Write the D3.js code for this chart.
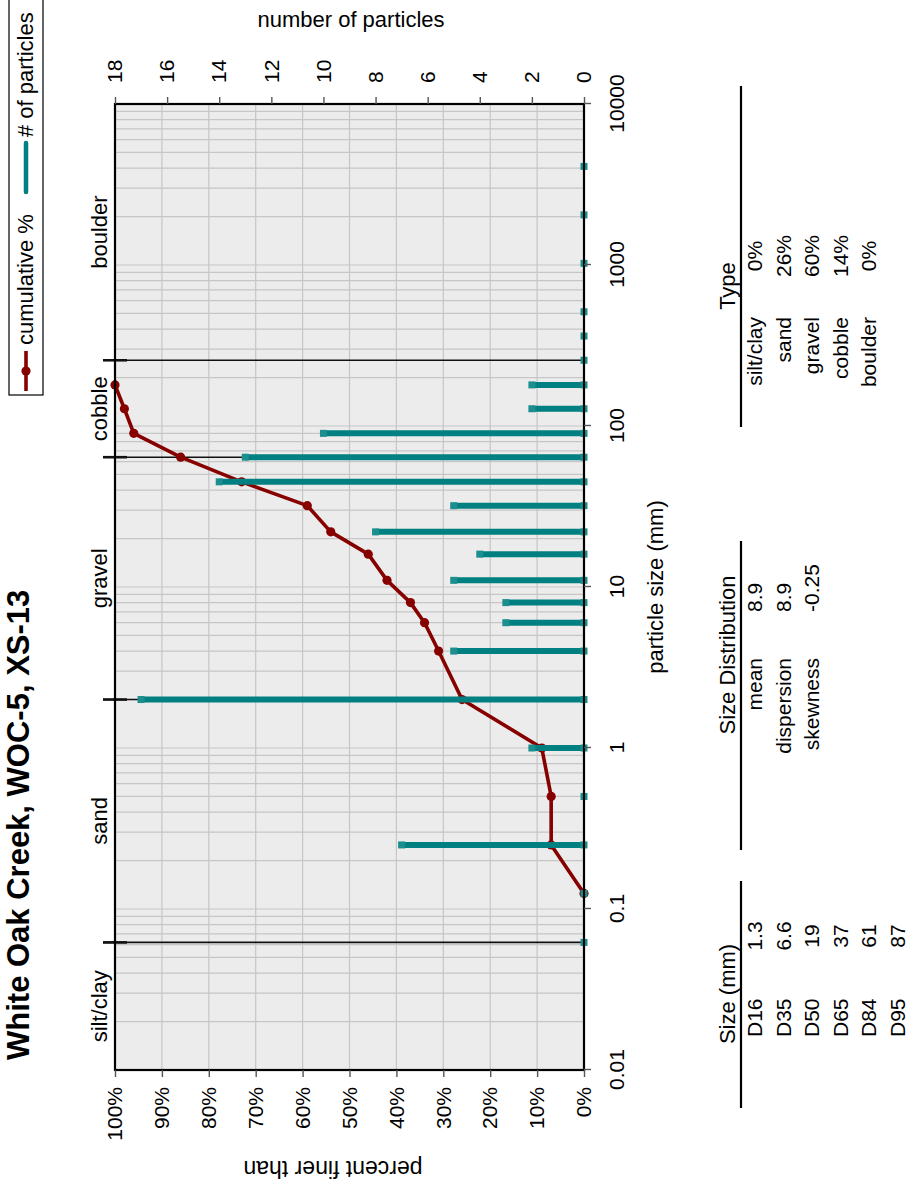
<!DOCTYPE html>
<html><head><meta charset="utf-8">
<script src="https://cdn.jsdelivr.net/npm/d3@7"></script>
<style>
body{margin:0;background:#fff}
svg{display:block}
text{font-family:"Liberation Sans",Arial,Helvetica,sans-serif;fill:#000}
</style>
</head><body>
<svg id="chart" width="907" height="1188"></svg>
<script>
// ---------- data ----------
const sizes  = [0.062,0.125,0.25,0.5,1,2,4,6,8,11,16,22,32,45,64,90,128,180,256,362,512,1024,2048,4096];
const counts = [0,0,7,0,2,17,5,3,3,5,4,8,5,14,13,10,2,2,0,0,0,0,0,0];
const cumSizes = [0.125,0.25,0.5,1,2,4,6,8,11,16,22,32,45,64,90,128,180];
const cumPct   = [0,7,7,9,26,31,34,37,42,46,54,59,73,86,96,98,100];
const classNames = ["silt/clay","sand","gravel","cobble","boulder"];
const classEdges = [0.01,0.062,2,64,256,10000];
const boundaries = [0.062,2,64,256];
const sizeTicks  = [0.01,0.1,1,10,100,1000,10000];
const sizeTickLabels = ["0.01","0.1","1","10","100","1000","10000"];
const pctTicks   = [0,10,20,30,40,50,60,70,80,90,100];
const countTicks = [0,2,4,6,8,10,12,14,16,18];
const dLabels = ["D16","D35","D50","D65","D84","D95"];
const dValues = ["1.3","6.6","19","37","61","87"];
const statLabels = ["mean","dispersion","skewness"];
const statValues = ["8.9","8.9","-0.25"];
const typeLabels = ["silt/clay","sand","gravel","cobble","boulder"];
const typeValues = ["0%","26%","60%","14%","0%"];
const title = "White Oak Creek, WOC-5, XS-13";

// ---------- layout (drawn in landscape coords, then rotated) ----------
const W = 1188, H = 907;
const svg = d3.select("#chart");
const g = svg.append("g").attr("transform", `translate(0,${W}) rotate(-90)`);

const x  = d3.scaleLog().domain([0.01,10000]).range([118,1084]);
const y  = d3.scaleLinear().domain([0,100]).range([584,115]);
const y2 = d3.scaleLinear().domain([0,18]).range([584,115]);
const [x0,x1] = x.range(); const [yb,yt] = y.range();

const RED = "#870000", TEAL = "#008080", TEAL2 = "#1c8e8e";

// background
g.append("rect").attr("x",x0).attr("y",yt).attr("width",x1-x0).attr("height",yb-yt).attr("fill","#ececec");

// grid
const logGrid = [];
for (let k=-2;k<=3;k++) for (let m=1;m<=9;m++){ const v=m*Math.pow(10,k); if(v>0.0100001 && v<9999) logGrid.push(v); }
g.append("g").selectAll("line").data(logGrid).join("line")
  .attr("x1",d=>x(d)).attr("x2",d=>x(d)).attr("y1",yt).attr("y2",yb)
  .attr("stroke","#c6c6c6").attr("stroke-width",1.2);
g.append("g").selectAll("line").data(pctTicks.slice(1,-1)).join("line")
  .attr("x1",x0).attr("x2",x1).attr("y1",d=>y(d)).attr("y2",d=>y(d))
  .attr("stroke","#c6c6c6").attr("stroke-width",1.2);

// class boundaries
const bg = g.append("g");
bg.selectAll("line.b").data(boundaries).join("line").attr("class","b")
  .attr("x1",d=>x(d)).attr("x2",d=>x(d)).attr("y1",103).attr("y2",yb)
  .attr("stroke","#111").attr("stroke-width",1.6);
bg.selectAll("line.t").data(boundaries).join("line").attr("class","t")
  .attr("x1",d=>x(d)).attr("x2",d=>x(d)).attr("y1",103).attr("y2",127)
  .attr("stroke","#111").attr("stroke-width",2.6);

// class labels
g.append("g").selectAll("text").data(classNames).join("text")
  .attr("x",(d,i)=>(x(classEdges[i])+x(classEdges[i+1]))/2).attr("y",107)
  .attr("text-anchor","middle").attr("font-size",22).text(d=>d);

// cumulative line
const pts = cumSizes.map((s,i)=>[s,cumPct[i]]);
g.append("path").datum(pts)
  .attr("d", d3.line().x(d=>x(d[0])).y(d=>y(d[1])))
  .attr("fill","none").attr("stroke",RED).attr("stroke-width",3.6).attr("stroke-linejoin","round");
g.append("g").selectAll("circle").data(pts).join("circle")
  .attr("cx",d=>x(d[0])).attr("cy",d=>y(d[1])).attr("r",4.6).attr("fill",RED);

// particle counts
const bars = sizes.map((s,i)=>[s,counts[i]]);
g.append("g").selectAll("line").data(bars.filter(d=>d[1]>0)).join("line")
  .attr("x1",d=>x(d[0])).attr("x2",d=>x(d[0])).attr("y1",y2(0)).attr("y2",d=>y2(d[1]))
  .attr("stroke",TEAL).attr("stroke-width",6);
const sq = 7;
g.append("g").selectAll("rect").data(bars).join("rect")
  .attr("x",d=>x(d[0])-sq/2).attr("y",d=>y2(0)-sq/2).attr("width",sq).attr("height",sq).attr("fill",TEAL2);
g.append("g").selectAll("rect").data(bars.filter(d=>d[1]>0)).join("rect")
  .attr("x",d=>x(d[0])-sq/2).attr("y",d=>y2(d[1])-sq/2).attr("width",sq).attr("height",sq).attr("fill",TEAL2);

// frame
g.append("rect").attr("x",x0).attr("y",yt).attr("width",x1-x0).attr("height",yb-yt)
  .attr("fill","none").attr("stroke","#000").attr("stroke-width",2.2);

// axes
function styleAxis(sel){
  sel.select(".domain").remove();
  sel.attr("font-size",null).attr("font-family",null);
  sel.selectAll(".tick line").attr("stroke","#555").attr("stroke-width",1.4);
  sel.selectAll(".tick text").attr("font-size",21).attr("fill","#000");
}
g.append("g").attr("transform",`translate(${x0},0)`)
  .call(d3.axisLeft(y).tickValues(pctTicks).tickFormat(d=>d+"%").tickSize(7).tickPadding(10))
  .call(styleAxis);
g.append("g").attr("transform",`translate(${x1},0)`)
  .call(d3.axisRight(y2).tickValues(countTicks).tickFormat(d=>d).tickSize(7).tickPadding(14))
  .call(styleAxis);
g.append("g").attr("transform",`translate(0,${yb})`)
  .call(d3.axisBottom(x).tickValues(sizeTicks).tickFormat((d,i)=>sizeTickLabels[i]).tickSize(7).tickPadding(18))
  .call(styleAxis);

// axis titles
g.append("text").attr("transform",`translate(27,333) rotate(-90)`).attr("text-anchor","middle")
  .attr("font-size",23).text("percent finer than");
g.append("text").attr("transform",`translate(1161,351) rotate(90)`).attr("text-anchor","middle")
  .attr("font-size",22).text("number of particles");
g.append("text").attr("x",(x0+x1)/2).attr("y",663).attr("text-anchor","middle")
  .attr("font-size",22).text("particle size (mm)");

// title
g.append("text").attr("x",128).attr("y",29).attr("font-size",31).attr("font-weight","bold").text(title);

// legend
const lg = g.append("g");
lg.append("rect").attr("x",793).attr("y",9).attr("width",400).attr("height",34)
  .attr("fill","#fff").attr("stroke","#000").attr("stroke-width",1.2);
lg.append("line").attr("x1",797).attr("x2",837).attr("y1",26).attr("y2",26).attr("stroke",RED).attr("stroke-width",3.6);
lg.append("circle").attr("cx",817).attr("cy",26).attr("r",4.6).attr("fill",RED);
lg.append("text").attr("x",843).attr("y",33).attr("font-size",22).text("cumulative %");
lg.append("line").attr("x1",996).attr("x2",1045).attr("y1",26).attr("y2",26).attr("stroke",TEAL).attr("stroke-width",4.5).attr("stroke-linecap","round");
lg.append("text").attr("x",1051).attr("y",33).attr("font-size",22).text("# of particles");

// tables
function table(cfg){
  const t = g.append("g");
  t.append("line").attr("x1",cfg.lx0).attr("x2",cfg.lx1).attr("y1",741).attr("y2",741)
    .attr("stroke","#000").attr("stroke-width",2.2);
  t.append("text").attr("x",cfg.hx).attr("y",735).attr("text-anchor","middle").attr("font-size",22).text(cfg.header);
  t.selectAll("text.l").data(cfg.labels).join("text").attr("class","l")
    .attr("x",cfg.labX).attr("y",(d,i)=>762+i*28.6).attr("text-anchor",cfg.labAnchor).attr("font-size",21).text(d=>d);
  t.selectAll("text.v").data(cfg.values).join("text").attr("class","v")
    .attr("x",cfg.valX).attr("y",(d,i)=>762+i*28.6).attr("text-anchor",cfg.valAnchor).attr("font-size",21).text(d=>d);
}
table({lx0:80,lx1:307,hx:194,header:"Size (mm)",labels:dLabels,values:dValues,labX:151,labAnchor:"start",valX:252,valAnchor:"middle"});
table({lx0:338,lx1:647,hx:533,header:"Size Distribution",labels:statLabels,values:statValues,labX:530,labAnchor:"end",valX:576,valAnchor:"start"});
table({lx0:761,lx1:1102,hx:902,header:"Type",labels:typeLabels,values:typeValues,labX:871,labAnchor:"end",valX:932,valAnchor:"middle"});
</script>
</body></html>
